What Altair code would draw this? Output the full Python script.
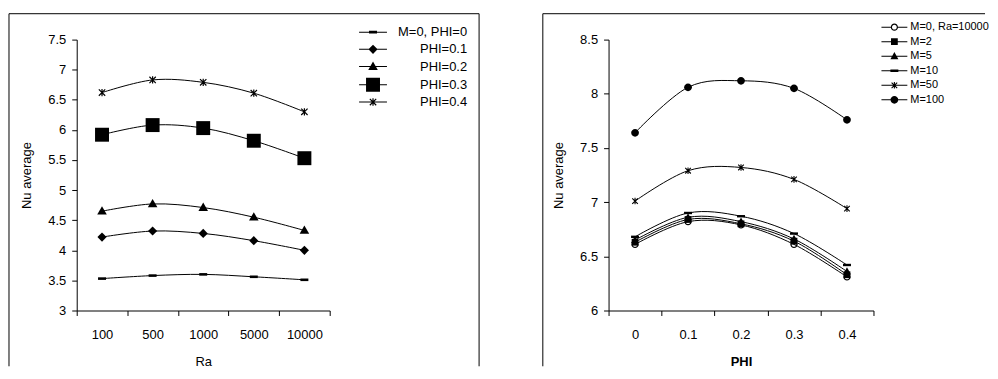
import math
import altair as alt
import pandas as pd

FONT = "Liberation Sans"

# ---------------- data: left panel (Nu average vs Ra) ----------------
ra_labels = ["100", "500", "1000", "5000", "10000"]
left_series = ["M=0, PHI=0", "PHI=0.1", "PHI=0.2", "PHI=0.3", "PHI=0.4"]
nu_phi0 = [3.53, 3.58, 3.60, 3.56, 3.51]
nu_phi01 = [4.22, 4.32, 4.28, 4.16, 4.00]
nu_phi02 = [4.65, 4.77, 4.71, 4.55, 4.33]
nu_phi03 = [5.92, 6.08, 6.03, 5.82, 5.53]
nu_phi04 = [6.62, 6.83, 6.79, 6.61, 6.30]
left_ticks = [3, 3.5, 4, 4.5, 5, 5.5, 6, 6.5, 7, 7.5]

# ---------------- data: right panel (Nu average vs PHI) ----------------
phi_labels = ["0", "0.1", "0.2", "0.3", "0.4"]
right_series = ["M=0, Ra=10000", "M=2", "M=5", "M=10", "M=50", "M=100"]
nu_m0 = [6.61, 6.82, 6.79, 6.61, 6.31]
nu_m2 = [6.63, 6.84, 6.80, 6.64, 6.33]
nu_m5 = [6.65, 6.86, 6.82, 6.66, 6.36]
nu_m10 = [6.68, 6.90, 6.87, 6.71, 6.42]
nu_m50 = [7.01, 7.29, 7.32, 7.21, 6.94]
nu_m100 = [7.64, 8.06, 8.12, 8.05, 7.76]
right_ticks = [6, 6.5, 7, 7.5, 8, 8.5]


def long_table(xname, xvals, names, columns):
    rows = []
    for name, vals in zip(names, columns):
        for xv, v in zip(xvals, vals):
            rows.append({xname: xv, "series": name, "nu": v})
    return pd.DataFrame(rows)


left_df = long_table("Ra", ra_labels, left_series,
                     [nu_phi0, nu_phi01, nu_phi02, nu_phi03, nu_phi04])
right_df = long_table("PHI", phi_labels, right_series,
                      [nu_m0, nu_m2, nu_m5, nu_m10, nu_m50, nu_m100])

# ---------------- marker glyphs (filled outlines, pixel units; size=4 -> scale 1) ----------------
def fmt(v):
    return f"{v:.2f}".rstrip("0").rstrip(".")


def poly(pts):
    area = sum(pts[i][0] * pts[(i + 1) % len(pts)][1] - pts[(i + 1) % len(pts)][0] * pts[i][1]
               for i in range(len(pts)))
    if area < 0:
        pts = pts[::-1]
    s = "M" + fmt(pts[0][0]) + "," + fmt(pts[0][1])
    for x, y in pts[1:]:
        s += "L" + fmt(x) + "," + fmt(y)
    return s + "Z"


def rect(x0, y0, x1, y1):
    return poly([(x0, y0), (x1, y0), (x1, y1), (x0, y1)])


def circle(r):
    return f"M{-r},0A{r},{r} 0 1,1 {r},0A{r},{r} 0 1,1 {-r},0Z"


def circle_rev(r):
    return f"M{-r},0A{r},{r} 0 1,0 {r},0A{r},{r} 0 1,0 {-r},0Z"


def star(a, w, h):
    d = w / math.sqrt(2)
    p1 = poly([(-a + d, -a - d), (a + d, a - d), (a - d, a + d), (-a - d, -a + d)])
    p2 = poly([(-a + d, a + d), (a + d, -a + d), (a - d, -a - d), (-a - d, a - d)])
    return p1 + p2 + rect(-w, -h, w, h)


left_markers = [
    rect(-4, -1.3, 4, 1.3),
    poly([(0, -4.6), (4.6, 0), (0, 4.6), (-4.6, 0)]),
    poly([(0, -5), (4.8, 3.4), (-4.8, 3.4)]),
    rect(-7, -7, 7, 7),
    star(3.2, 0.6, 3.7),
]
right_markers = [
    circle(3.6) + circle_rev(2.4),
    rect(-3.4, -3.4, 3.4, 3.4),
    poly([(0, -4.2), (4, 2.9), (-4, 2.9)]),
    rect(-4, -1.2, 4, 1.2),
    star(2.8, 0.55, 3.3),
    circle(3.9),
]
left_legend_paths = [rect(-14, -0.5, 14, 0.5) + m for m in left_markers]
right_legend_paths = [rect(-13, -0.5, -3.4, 0.5) + rect(3.4, -0.5, 13, 0.5) + right_markers[0]] + \
    [rect(-13, -0.5, 13, 0.5) + m for m in right_markers[1:]]


def frame(x0, x1, y0, y1, right_side):
    one = pd.DataFrame({"k": [0]})
    parts = [
        alt.Chart(one).mark_rule(color="black", strokeWidth=1).encode(
            x=alt.value(x0), x2=alt.value(x1), y=alt.value(y0)),
        alt.Chart(one).mark_rule(color="black", strokeWidth=1).encode(
            x=alt.value(x0), y=alt.value(y0), y2=alt.value(y1)),
    ]
    if right_side:
        parts.append(alt.Chart(one).mark_rule(color="black", strokeWidth=1).encode(
            x=alt.value(x1), y=alt.value(y0), y2=alt.value(y1)))
    return parts


def panel(df, xfield, xlabels, series, ticks, markers, legend_paths, width,
          xtitle, xbold, frame_parts, lx, ly, label_align, legend_font, row_pad, label_offset):
    xenc = alt.X(f"{xfield}:O", sort=xlabels,
                 scale=alt.Scale(type="band", paddingInner=0, paddingOuter=0),
                 bandPosition=0.5,
                 axis=alt.Axis(title=xtitle, tickBand="extent", labelAngle=0,
                               titleFontWeight="bold" if xbold else "normal"))
    yenc = alt.Y("nu:Q", scale=alt.Scale(domain=[ticks[0], ticks[-1]], nice=False, zero=False),
                 axis=alt.Axis(title="Nu average", values=ticks, format="~g",
                               titleFontWeight="normal"))
    base = alt.Chart(df)
    lines = base.mark_line(interpolate="cardinal", color="black", strokeWidth=1).encode(
        x=xenc, y=yenc, detail="series:N")
    points = base.mark_point(filled=True, color="black", strokeWidth=0,
                             size=4, opacity=1).encode(
        x=xenc, y=yenc,
        shape=alt.Shape("series:N", scale=alt.Scale(domain=series, range=markers), legend=None))
    legend_kwargs = dict(orient="none", legendX=lx, legendY=ly, title=None,
                         symbolSize=4, symbolStrokeWidth=0,
                         symbolFillColor="black", symbolOpacity=1,
                         labelFont=FONT, labelFontSize=legend_font, labelColor="black",
                         labelAlign=label_align,
                         labelOffset=label_offset, rowPadding=row_pad, padding=0,
                         labelLimit=300)
    legend_layer = base.mark_point(filled=True, color="black", strokeWidth=0,
                                   size=4, opacity=1).transform_filter("false").encode(
        shape=alt.Shape("series:N", scale=alt.Scale(domain=series, range=legend_paths),
                        legend=alt.Legend(**legend_kwargs)))
    return alt.layer(*frame_parts, lines, points, legend_layer).resolve_scale(
        shape="independent").properties(width=width, height=272)


left = panel(left_df, "Ra", ra_labels, left_series, left_ticks, left_markers,
             left_legend_paths, 254, "Ra", False,
             frame(-68, 404, -26, 328, True), 291, -14, "right", 13, 3.3, 88)
right = panel(right_df, "PHI", phi_labels, right_series, right_ticks, right_markers,
              right_legend_paths, 266, "PHI", True,
              frame(-66, 378, -26, 328, False), 281.5, -18, "left", 11, 2.6, 10.5)

chart = alt.hconcat(left, right, spacing=280, bounds="flush").properties(
    padding={"left": 0, "top": 4, "right": 0, "bottom": 0}
).configure_view(strokeWidth=0).configure_axis(
    labelFont=FONT, titleFont=FONT, labelFontSize=13, titleFontSize=13,
    labelColor="black", titleColor="black", domainColor="black", tickColor="black",
    domainWidth=1, tickWidth=1, tickSize=5, grid=False
).configure_axisX(labelPadding=13, titlePadding=14).configure_axisY(
    labelPadding=6, titlePadding=14)

chart.save("out.html", embed_options={"renderer": "svg", "actions": False})
